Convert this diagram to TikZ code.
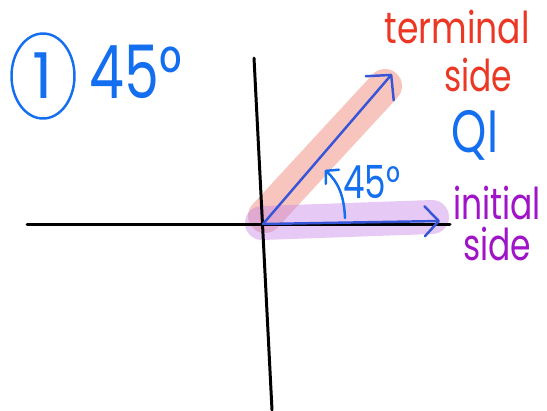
\documentclass[tikz,border=0pt]{standalone}
\usepackage{fontspec}
\setmainfont{Poppins}
\definecolor{penblue}{RGB}{20,110,240}
\definecolor{vecblue}{RGB}{55,85,215}
\definecolor{penred}{RGB}{235,55,35}
\definecolor{penpurple}{RGB}{160,20,200}
\definecolor{hlred}{RGB}{240,140,125}
\definecolor{hlpurple}{RGB}{200,135,230}
\usetikzlibrary{arrows.meta,shapes.geometric}

\begin{document}
\begin{tikzpicture}[x=0.02cm, y=-0.02cm,
  hand/.style={inner sep=0pt, xscale=0.75, transform shape},
  axisline/.style={line width=1.7pt, black, line cap=round},
  marker/.style={line width=0.68cm, line cap=round, opacity=0.5},
  vec/.style={line width=1.4pt, vecblue, line cap=round,
    -{Straight Barb[length=10pt, width=21pt, round]}}]
\useasboundingbox (0,0) rectangle (547,410);

% points
\coordinate (O) at (263,224);
\coordinate (T) at (392,74);
\coordinate (I) at (440,221);
\coordinate (yt) at (254,58);
\coordinate (yb) at (272,410);
\coordinate (xl) at (27,224);
\coordinate (xr) at (450,224);
\coordinate (tm0) at (265,216);
\coordinate (tm1) at (385,86);
\coordinate (im0) at (262,223);
\coordinate (im1) at (432,217);
\coordinate (a0) at (345,218);
\coordinate (a1) at (325,170);

% highlighter strokes
\draw[marker, hlred] (tm0) -- (tm1);
\draw[marker, hlpurple, opacity=0.45] (im0) -- (im1);

% axes
\draw[axisline] (xl) -- (xr);
\draw[axisline] (yt) -- (yb);

% sides of the angle
\draw[vec] (O) -- (T);
\draw[vec, -{Straight Barb[length=8pt, width=17pt, round]}] (O) -- (I);

% angle arrow
\draw[line width=1.4pt, penblue, line cap=round,
  -{Straight Barb[length=5pt, width=11pt, round]}]
  (a0) .. controls (344,195) and (338,182) .. (a1);

% title
\node[ellipse, draw=penblue, line width=1.4pt, inner sep=0pt,
      minimum width=1.26cm, minimum height=1.7cm,
      font=\fontsize{36}{38}\selectfont, text=penblue] (num) at (43,76) {1};
\node[hand, font=\fontsize{42}{44}\selectfont, text=penblue] (deg) at (136,72) {45°};

% labels
\node[hand, xscale=1.05, font=\fontsize{25}{26}\selectfont, text=penred] (term) at (457,27) {terminal};
\node[hand, font=\fontsize{25}{26}\selectfont, text=penred] (termside) at (478,75) {side};
\node[hand, font=\fontsize{34}{36}\selectfont, text=penblue] (quad) at (475,135) {QI};
\node[hand, font=\fontsize{26}{28}\selectfont, text=penblue] (angle) at (372,182) {45°};
\node[hand, font=\fontsize{25}{26}\selectfont, text=penpurple] (init) at (497,203) {initial};
\node[hand, font=\fontsize{25}{26}\selectfont, text=penpurple] (initside) at (497,244) {side};

\end{tikzpicture}
\end{document}
